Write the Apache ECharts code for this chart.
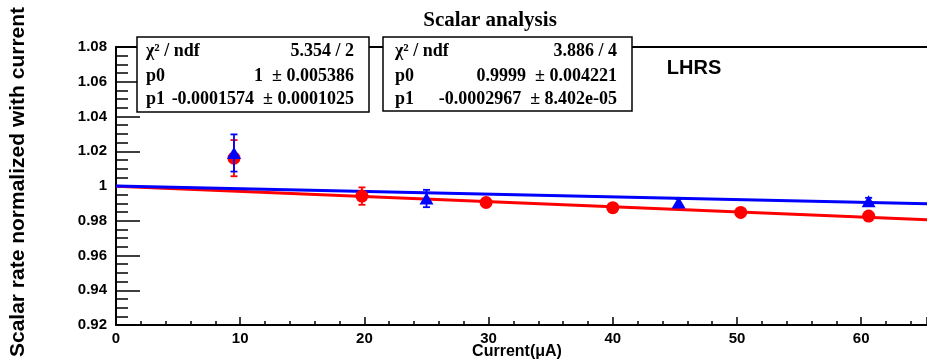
<!DOCTYPE html>
<html>
<head>
<meta charset="utf-8">
<script src="https://cdn.jsdelivr.net/npm/echarts@6/dist/echarts.min.js"></script>
<style>html,body{margin:0;padding:0;background:#fff;}#c{width:927px;height:362px;}</style>
</head>
<body>
<div id="c"></div>
<script>
// ---- data ----
const redX   = [9.5, 19.8, 29.8, 40.0, 50.3, 60.6];
const redY   = [1.016, 0.9942, 0.9905, 0.9875, 0.9848, 0.9827];
const redErr = [0.0104, 0.005, 0.002, 0.002, 0.002, 0.002];

const blueX   = [9.5, 25.0, 45.3, 60.6];
const blueY   = [1.019, 0.9928, 0.9905, 0.9912];
const blueErr = [0.0107, 0.005, 0.002, 0.002];

// fitted lines (end points)
const redFitX  = [0, 65.3];
const redFitY  = [0.9999, 0.98053];
const blueFitX = [0, 65.3];
const blueFitY = [1.0, 0.98972];

const yTicks = [0.92, 0.94, 0.96, 0.98, 1, 1.02, 1.04, 1.06, 1.08];
const xTicks = [0, 10, 20, 30, 40, 50, 60];

const box1Rows = [["χ² / ndf", "5.354 / 2"], ["p0", "1  ± 0.005386"], ["p1", "-0.0001574  ± 0.0001025"]];
const box2Rows = [["χ² / ndf", "3.886 / 4"], ["p0", "0.9999  ± 0.004221"], ["p1", "-0.0002967  ± 8.402e-05"]];

// ---- build ----
const zip = (a, b, c) => a.map((v, i) => c ? [v, b[i], c[i]] : [v, b[i]]);

function errRender(color) {
  return function (params, api) {
    const x = api.value(0), y = api.value(1), e = api.value(2);
    const hi = api.coord([x, y + e]), lo = api.coord([x, y - e]);
    const cap = 3.5;
    const st = {stroke: color, lineWidth: 1.8};
    return {type: 'group', children: [
      {type: 'line', shape: {x1: hi[0], y1: hi[1], x2: lo[0], y2: lo[1]}, style: st},
      {type: 'line', shape: {x1: hi[0] - cap, y1: hi[1], x2: hi[0] + cap, y2: hi[1]}, style: st},
      {type: 'line', shape: {x1: lo[0] - cap, y1: lo[1], x2: lo[0] + cap, y2: lo[1]}, style: st}
    ]};
  };
}

function statBox(left, top, w, h, labelX, valRight, rows) {
  const els = [{type: 'rect', shape: {x: left, y: top, width: w, height: h},
    style: {fill: '#fff', stroke: '#000', lineWidth: 1.5}, z: 10}];
  const ys = [top + 14, top + 39, top + 62];
  rows.forEach((r, i) => {
    els.push({type: 'text', x: labelX, y: ys[i], z: 11,
      style: {text: r[0], font: 'bold 18px "Liberation Serif", serif', fill: '#000',
        textAlign: 'left', textVerticalAlign: 'middle'}});
    els.push({type: 'text', x: valRight, y: ys[i], z: 11,
      style: {text: r[1], font: 'bold 18px "Liberation Serif", serif', fill: '#000',
        textAlign: 'right', textVerticalAlign: 'middle'}});
  });
  return els;
}

const labelFont = {fontFamily: '"Liberation Sans", Arial, sans-serif', fontWeight: 'bold', fontSize: 15, color: '#000'};

const chart = echarts.init(document.getElementById('c'));
chart.setOption({
  animation: false,
  backgroundColor: '#fff',
  grid: {left: 116, top: 47, right: 0, bottom: 37, containLabel: false},
  xAxis: [{
    type: 'value', min: 0, max: 65.3, interval: 10,
    axisLine: {show: true, onZero: false, lineStyle: {color: '#000', width: 2}},
    axisTick: {show: true, inside: true, length: 8, lineStyle: {color: '#000', width: 1.5}},
    minorTick: {show: true, splitNumber: 5, length: 4, lineStyle: {color: '#000', width: 1.5}},
    splitLine: {show: false},
    axisLabel: Object.assign({margin: 6, showMaxLabel: false,
      formatter: v => xTicks.indexOf(v) >= 0 ? String(v) : ''}, labelFont)
  }, {
    type: 'value', position: 'top', min: 0, max: 65.3,
    axisLine: {show: true, onZero: false, lineStyle: {color: '#000', width: 2}},
    axisTick: {show: false}, axisLabel: {show: false}, splitLine: {show: false}
  }],
  yAxis: {
    type: 'value', min: 0.92, max: 1.08, interval: 0.02,
    axisLine: {show: true, onZero: false, lineStyle: {color: '#000', width: 2}},
    axisTick: {show: true, inside: true, length: 24, lineStyle: {color: '#000', width: 1.5}},
    minorTick: {show: true, splitNumber: 4, length: 12, lineStyle: {color: '#000', width: 1.5}},
    splitLine: {show: false},
    axisLabel: Object.assign({margin: 9,
      formatter: v => { const t = yTicks.find(k => Math.abs(k - v) < 1e-9); return t === undefined ? '' : String(t); }}, labelFont)
  },
  series: [
    {type: 'line', data: zip(redFitX, redFitY), symbol: 'none', lineStyle: {color: '#ff0000', width: 3}, z: 2, silent: true},
    {type: 'line', data: zip(blueFitX, blueFitY), symbol: 'none', lineStyle: {color: '#0000ff', width: 3}, z: 3, silent: true},
    {type: 'custom', renderItem: errRender('#ff0000'), data: zip(redX, redY, redErr), encode: {x: 0, y: 1}, z: 4},
    {type: 'scatter', data: zip(redX, redY), symbol: 'circle', symbolSize: 13, itemStyle: {color: '#ff0000', opacity: 1}, z: 5},
    {type: 'custom', renderItem: errRender('#0000ff'), data: zip(blueX, blueY, blueErr), encode: {x: 0, y: 1}, z: 6},
    {type: 'scatter', data: zip(blueX, blueY), symbol: 'triangle', symbolSize: [14, 12], itemStyle: {color: '#0000ff', opacity: 1}, z: 7}
  ],
  graphic: [
    {type: 'text', x: 490, y: 21, z: 20,
      style: {text: 'Scalar analysis', font: 'bold 21px "Liberation Serif", serif', fill: '#000', textAlign: 'center', textVerticalAlign: 'middle'}},
    {type: 'text', x: 694, y: 68, z: 20,
      style: {text: 'LHRS', font: 'bold 20px "Liberation Sans", Arial, sans-serif', fill: '#000', textAlign: 'center', textVerticalAlign: 'middle'}},
    {type: 'text', x: 517, y: 352, z: 20,
      style: {text: 'Current(μA)', font: 'bold 16px "Liberation Sans", Arial, sans-serif', fill: '#000', textAlign: 'center', textVerticalAlign: 'middle'}},
    {type: 'text', x: 18, y: 182, rotation: Math.PI / 2, z: 20,
      style: {text: 'Scalar rate normalized with current', font: 'bold 21px "Liberation Sans", Arial, sans-serif', fill: '#000', textAlign: 'center', textVerticalAlign: 'middle'}}
  ].concat(statBox(137, 37, 232, 75, 146, 354, box1Rows))
   .concat(statBox(383, 37, 249, 74, 395, 617, box2Rows))
});
</script>
</body>
</html>
